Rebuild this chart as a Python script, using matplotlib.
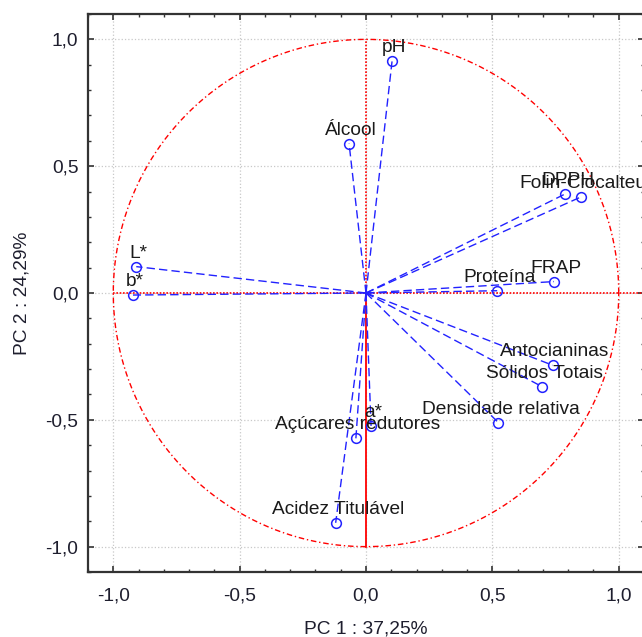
import numpy as np
import matplotlib
matplotlib.use("Agg")
import matplotlib.pyplot as plt
from matplotlib.ticker import MultipleLocator, FuncFormatter

variables = ['pH', 'Álcool', 'DPPH', 'Folin-Ciocalteu', 'FRAP', 'Proteína',
             'L*', 'b*', 'Antocianinas', 'Sólidos Totais', 'Densidade relativa',
             'a*', 'Açúcares redutores', 'Acidez Titulável']
pc1 = [0.103, -0.067, 0.789, 0.849, 0.743, 0.519,
       -0.909, -0.922, 0.739, 0.698, 0.524,
       0.020, -0.040, -0.120]
pc2 = [0.913, 0.589, 0.391, 0.378, 0.045, 0.009,
       0.104, -0.008, -0.285, -0.370, -0.511,
       -0.524, -0.573, -0.906]

xlabel = 'PC 1 : 37,25%'
ylabel = 'PC 2 : 24,29%'

plt.rcParams['font.family'] = ['Liberation Sans', 'DejaVu Sans']
txt_color = '#1e1e2e'

fig = plt.figure(figsize=(6.42, 6.37), dpi=100)
ax = fig.add_axes([88/642, 1-572/637, (644-88)/642, (572-14)/637])
ax.set_xlim(-1.1, 1.1)
ax.set_ylim(-1.1, 1.1)

# grid
ax.grid(True, which='major', color='#c8c8c8', linestyle=':', linewidth=0.9)
ax.set_axisbelow(True)

# unit circle
t = np.linspace(0, 2*np.pi, 400)
ax.plot(np.cos(t), np.sin(t), color='red', lw=1.0, linestyle=(0, (4, 2, 1, 2)), zorder=2)
# reference lines
ax.plot([-1, 1.1], [0, 0], color='red', lw=1.2, linestyle=(0, (1, 1)), zorder=2)
ax.plot([0, 0], [0, 1], color='red', lw=1.2, linestyle=(0, (1, 1)), zorder=2)
ax.plot([0, 0], [-1, 0], color='red', lw=1.3, linestyle='-', zorder=2)

# vectors
for x, y in zip(pc1, pc2):
    ax.plot([0, x], [0, y], color='#2222ff', lw=1.0, linestyle=(0, (6, 3)), zorder=3)
ax.plot(pc1, pc2, linestyle='none', marker='o', markersize=7, markerfacecolor='none',
        markeredgecolor='#2222ff', markeredgewidth=1.1, zorder=4)

for name, x, y in zip(variables, pc1, pc2):
    ax.annotate(name, (x, y), xytext=(1.5, 6.5), textcoords='offset points',
                ha='center', va='baseline', fontsize=13.8, color='#1a1a1a',
                annotation_clip=False, zorder=5)

# ticks
ax.xaxis.set_major_locator(MultipleLocator(0.5))
ax.yaxis.set_major_locator(MultipleLocator(0.5))
ax.xaxis.set_minor_locator(MultipleLocator(0.1))
ax.yaxis.set_minor_locator(MultipleLocator(0.1))
fmt = FuncFormatter(lambda v, p: ('%.1f' % v).replace('.', ',').replace('-0,0', '0,0'))
ax.xaxis.set_major_formatter(fmt)
ax.yaxis.set_major_formatter(fmt)
ax.tick_params(which='both', direction='in', top=True, right=True, color='#333333')
ax.tick_params(which='major', length=4, width=1.2)
ax.tick_params(which='minor', length=2.2, width=1.0)
ax.tick_params(axis='x', which='major', pad=11, labelsize=13.8, labelcolor=txt_color)
ax.tick_params(axis='y', which='major', pad=7, labelsize=13.8, labelcolor=txt_color)

for s in ax.spines.values():
    s.set_linewidth(1.6)
    s.set_color('#333333')

ax.set_xlabel(xlabel, fontsize=13.8, color=txt_color, labelpad=12)
ax.set_ylabel(ylabel, fontsize=13.8, color=txt_color, labelpad=11)

fig.savefig('out.png', dpi=100)
